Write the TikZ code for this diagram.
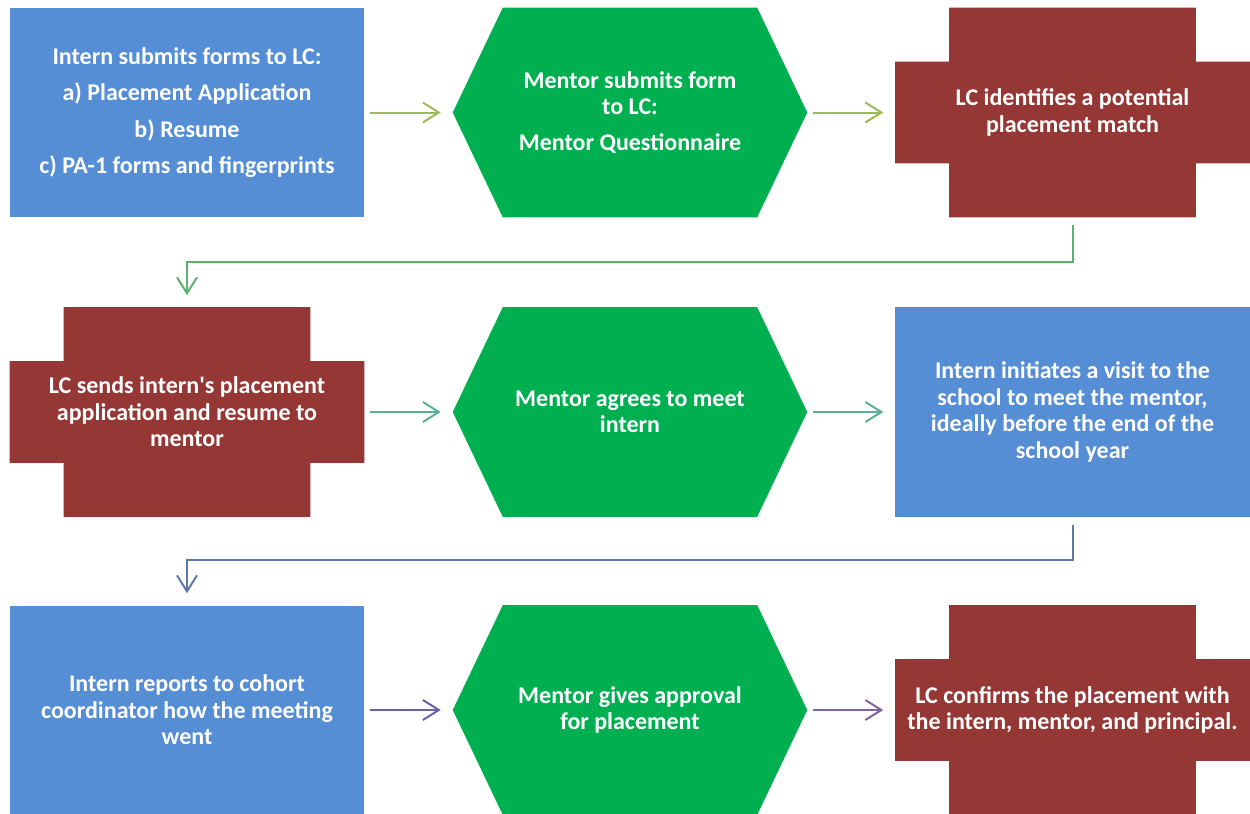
\documentclass[tikz,border=0pt]{standalone}
\usepackage{fontspec}
\setmainfont{Carlito}
\usetikzlibrary{arrows.meta}
\definecolor{boxblue}{HTML}{558ED5}
\definecolor{hexgreen}{HTML}{00B050}
\definecolor{crossred}{HTML}{953735}
\definecolor{arrA}{HTML}{9BBB59}
\definecolor{arrB}{HTML}{5CB16C}
\definecolor{arrC}{HTML}{5AB192}
\definecolor{arrD}{HTML}{5A7BA6}
\definecolor{arrE}{HTML}{6762A8}
\definecolor{arrF}{HTML}{8064A2}
\tikzset{
  box/.style={inner sep=0pt, minimum width=265.5pt, minimum height=156.75pt,
    align=center, text=white, font=\fontsize{18pt}{19.8pt}\selectfont\bfseries},
  flow/.style={line width=1.5pt, -{Straight Barb[length=12pt,width=15pt,line width=1.5pt]},
    shorten <=4.5pt, shorten >=9pt},
  elbow/.style={line width=1.5pt, -{Straight Barb[length=12pt,width=15pt,line width=1.5pt]},
    shorten <=6pt, shorten >=9pt}
}
\newcommand{\hexfill}[2]{% node, colour
  \fill[#2] (#1.west) -- ([xshift=37.5pt]#1.north west) -- ([xshift=-37.5pt]#1.north east)
    -- (#1.east) -- ([xshift=-37.5pt]#1.south east) -- ([xshift=37.5pt]#1.south west) -- cycle;}
\newcommand{\crossfill}[2]{%
  \fill[#2] ([xshift=40.5pt]#1.north west) -- ([xshift=-40.5pt]#1.north east)
    -- ([xshift=-40.5pt,yshift=-40.5pt]#1.north east) -- ([yshift=-40.5pt]#1.north east)
    -- ([yshift=40.5pt]#1.south east) -- ([xshift=-40.5pt,yshift=40.5pt]#1.south east)
    -- ([xshift=-40.5pt]#1.south east) -- ([xshift=40.5pt]#1.south west)
    -- ([xshift=40.5pt,yshift=40.5pt]#1.south west) -- ([yshift=40.5pt]#1.south west)
    -- ([yshift=-40.5pt]#1.north west) -- ([xshift=40.5pt,yshift=-40.5pt]#1.north west) -- cycle;}
\begin{document}
\begin{tikzpicture}[x=0.75pt,y=-0.75pt]
\useasboundingbox (0,0) rectangle (1250,814);
% row 1
\fill[boxblue] (10,8) rectangle (364,217);
\node[box] (b1) at (187,112.5) {Intern submits forms to LC:\\[7.5pt]a) Placement Application\\[7.5pt]b) Resume\\[7.5pt]c) PA-1 forms and fingerprints};
\node[box] (h1) at (630,112.5) {};
\hexfill{h1}{hexgreen}
\node[box] at (h1) {Mentor submits form\\to LC:\\[7.5pt]Mentor Questionnaire};
\node[box] (c1) at (1072.5,112.5) {};
\crossfill{c1}{crossred}
\node[box] at (c1) {LC identifies a potential\\placement match};
% row 2
\node[box] (c2) at (187,412) {};
\crossfill{c2}{crossred}
\node[box] at (c2) {LC sends intern\textquotesingle s placement\\application and resume to\\mentor};
\node[box] (h2) at (630,412) {};
\hexfill{h2}{hexgreen}
\node[box] at (h2) {Mentor agrees to meet\\intern};
\fill[boxblue] (895,307) rectangle (1250,517);
\node[box] (b2) at (1072.5,412) {Intern initiates a visit to the\\school to meet the mentor,\\ideally before the end of the\\school year};
% row 3
\fill[boxblue] (10,606) rectangle (364,814);
\node[box] (b3) at (187,710) {Intern reports to cohort\\coordinator how the meeting\\went};
\node[box] (h3) at (630,710) {};
\hexfill{h3}{hexgreen}
\node[box] at (h3) {Mentor gives approval\\for placement};
\node[box] (c3) at (1072.5,710) {};
\crossfill{c3}{crossred}
\node[box] at (c3) {LC confirms the placement with\\the intern, mentor, and principal.};
% connectors
\draw[flow,arrA] (b1.east) -- (h1.west);
\draw[flow,arrA] (h1.east) -- (c1.west);
\draw[elbow,arrB] (c1.south) -- ++(0,45) -| (c2.north);
\draw[flow,arrC] (c2.east) -- (h2.west);
\draw[flow,arrC] (h2.east) -- (b2.west);
\draw[elbow,arrD] (b2.south) -- ++(0,43) -| (b3.north);
\draw[flow,arrE] (b3.east) -- (h3.west);
\draw[flow,arrF] (h3.east) -- (c3.west);
\end{tikzpicture}
\end{document}
